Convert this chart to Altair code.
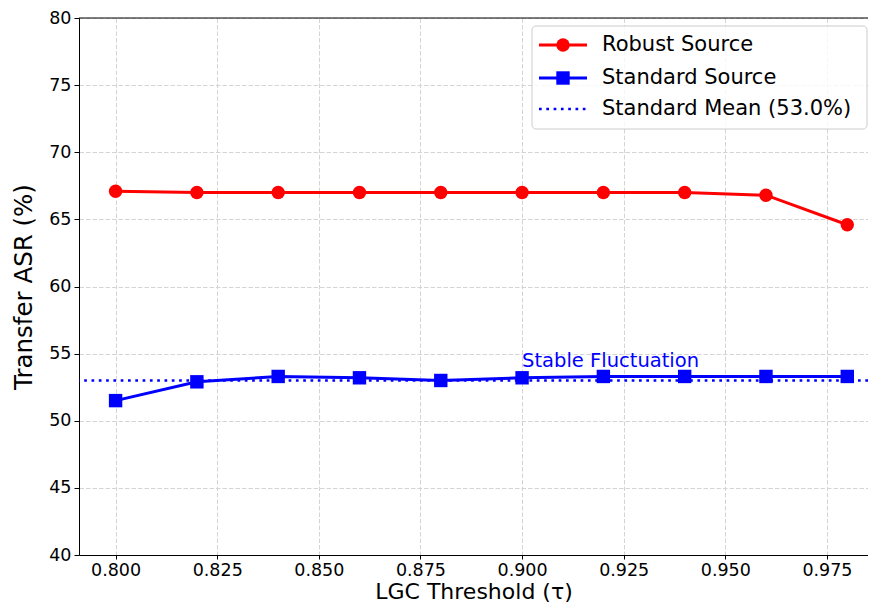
import altair as alt
import pandas as pd

# ---- data ----
thresholds = [0.80, 0.82, 0.84, 0.86, 0.88, 0.90, 0.92, 0.94, 0.96, 0.98]
robust_asr = [67.1, 67.0, 67.0, 67.0, 67.0, 67.0, 67.0, 67.0, 66.8, 64.6]
standard_asr = [51.5, 52.9, 53.3, 53.2, 53.0, 53.2, 53.3, 53.3, 53.3, 53.3]
standard_mean = 53.0
series_names = ["Robust Source", "Standard Source", "Standard Mean (53.0%)"]
x_ticks = [0.800, 0.825, 0.850, 0.875, 0.900, 0.925, 0.950, 0.975]
y_ticks = [40, 45, 50, 55, 60, 65, 70, 75, 80]
annotation_x = [0.90]
annotation_y = [54.0]
annotation_text = ["Stable Fluctuation"]

FONT = "DejaVu Sans"
W, H = 789, 537
RED = "#ff0000"
BLUE = "#0000ff"

robust_df = pd.DataFrame({"x": thresholds, "y": robust_asr})
standard_df = pd.DataFrame({"x": thresholds, "y": standard_asr})
mean_df = pd.DataFrame({"y": [standard_mean]})
ann_df = pd.DataFrame({"x": annotation_x, "y": annotation_y, "t": annotation_text})

xscale = alt.Scale(domain=[0.791, 0.9851], nice=False, zero=False)
yscale = alt.Scale(domain=[40, 80], nice=False, zero=False)

xaxis = alt.Axis(values=x_ticks, format=".3f", title="LGC Threshold (τ)",
                 titlePadding=3, titleFontSize=22, tickSize=4, labelPadding=2)
yaxis = alt.Axis(values=y_ticks, format="d", title="Transfer ASR (%)",
                 titlePadding=12)

X = alt.X("x:Q", scale=xscale, axis=xaxis)
Y = alt.Y("y:Q", scale=yscale, axis=yaxis)

mean_rule = alt.Chart(mean_df).mark_rule(
    color=BLUE, strokeWidth=2.7, strokeDash=[2.7, 4.6]
).encode(y=alt.Y("y:Q", scale=yscale, axis=yaxis))

robust_line = alt.Chart(robust_df).mark_line(color=RED, strokeWidth=3).encode(x=X, y=Y)
robust_pts = alt.Chart(robust_df).mark_point(
    shape="circle", filled=True, color=RED, size=180, opacity=1
).encode(x=X, y=Y)

standard_line = alt.Chart(standard_df).mark_line(color=BLUE, strokeWidth=3).encode(x=X, y=Y)
standard_pts = alt.Chart(standard_df).mark_point(
    shape="square", filled=True, color=BLUE, size=180, opacity=1
).encode(x=X, y=Y)

annotation = alt.Chart(ann_df).mark_text(
    align="left", baseline="alphabetic", color=BLUE, fontSize=19.5, font=FONT
).encode(x=X, y=Y, text="t:N")

top_spine = alt.Chart(mean_df).mark_rule(color="black", strokeWidth=1).encode(
    y=alt.value(0)
)

# ---- legend (drawn as marks, upper right) ----
one = pd.DataFrame({"k": [0]})
LX = 453
LY = 8
legend_layers = [
    alt.Chart(one).mark_rect(
        fill="white", fillOpacity=0.8, stroke="#cccccc", strokeWidth=1, cornerRadius=4
    ).encode(x=alt.value(LX), x2=alt.value(LX + 335), y=alt.value(LY), y2=alt.value(LY + 103))
]
row_y = [LY + 19, LY + 52, LY + 83]
styles = [
    dict(color=RED, dash=None, shape="circle"),
    dict(color=BLUE, dash=None, shape="square"),
    dict(color=BLUE, dash=[2.7, 4.6], shape=None),
]
for name, ry, st in zip(series_names, row_y, styles):
    rule_kwargs = dict(color=st["color"], strokeWidth=3 if st["dash"] is None else 2.7)
    if st["dash"] is not None:
        rule_kwargs["strokeDash"] = st["dash"]
    legend_layers.append(
        alt.Chart(one).mark_rule(**rule_kwargs).encode(
            x=alt.value(LX + 7), x2=alt.value(LX + 55), y=alt.value(ry)
        )
    )
    if st["shape"] is not None:
        legend_layers.append(
            alt.Chart(one).mark_point(
                shape=st["shape"], filled=True, color=st["color"], size=180, opacity=1
            ).encode(x=alt.value(LX + 31), y=alt.value(ry))
        )
    legend_layers.append(
        alt.Chart(one).mark_text(
            align="left", baseline="middle", fontSize=21, font=FONT, color="black"
        ).encode(x=alt.value(LX + 70), y=alt.value(ry), text=alt.value(name))
    )

chart = alt.layer(
    mean_rule, robust_line, standard_line, robust_pts, standard_pts,
    annotation, top_spine, *legend_layers
).properties(
    width=W, height=H,
    autosize=alt.AutoSizeParams(type="none"),
    padding={"left": 71, "top": 10, "right": 0, "bottom": 51},
).configure_view(
    stroke=None
).configure_axis(
    domainColor="black", domainWidth=1,
    tickColor="black", tickWidth=1, tickSize=5,
    labelColor="black", labelFont=FONT, labelFontSize=17.5, labelPadding=3,
    titleColor="black", titleFont=FONT, titleFontSize=24.5, titleFontWeight="normal",
    grid=True, gridColor="#d4d4d4", gridWidth=1, gridDash=[4.5, 2],
).configure_axisX(labelFlush=False).configure_axisY(labelFlush=False)

chart.save("out.html", embed_options={"renderer": "svg", "actions": False})
